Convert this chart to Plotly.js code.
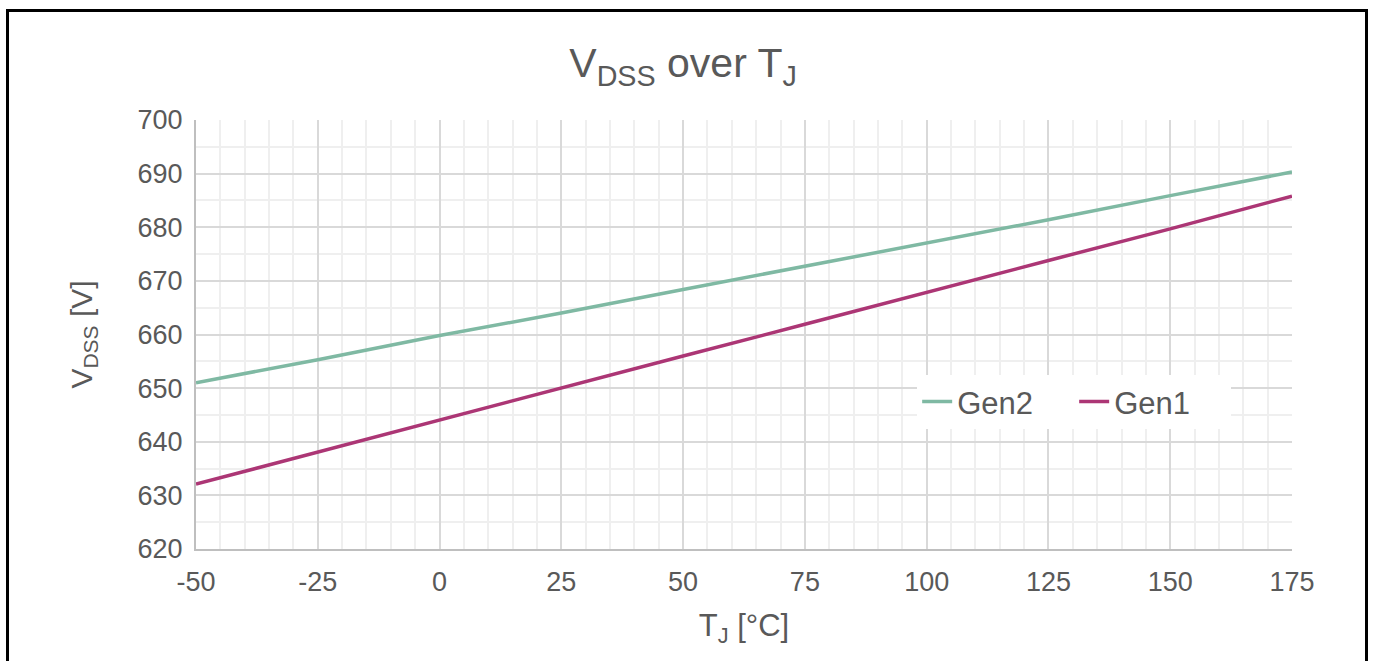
<!DOCTYPE html>
<html>
<head>
<meta charset="utf-8">
<script src="https://cdn.plot.ly/plotly-3.0.1.min.js"></script>
<style>
  html, body { margin: 0; padding: 0; background: #fff; overflow: hidden; }
  #chart { width: 1373px; height: 661px; }
  #frame { position: absolute; left: 6px; top: 9px; width: 1362px; height: 700px;
           box-sizing: border-box; border: 3px solid #000; pointer-events: none; }
</style>
</head>
<body>
<div id="chart"></div>
<div id="frame"></div>
<script>
// Junction temperature [°C]
const tj = [-50, -25, 0, 25, 50, 75, 100, 125, 150, 175];
// VDSS [V]
const gen2 = [651.0, 655.3, 659.8, 664.0, 668.4, 672.7, 677.1, 681.4, 685.9, 690.3];
const gen1 = [632.1, 638.1, 644.1, 650.0, 656.0, 661.9, 667.9, 673.8, 679.7, 685.8];
const seriesNames = ['Gen2', 'Gen1'];
const xTicks = [-50, -25, 0, 25, 50, 75, 100, 125, 150, 175];
const yTicks = [620, 630, 640, 650, 660, 670, 680, 690, 700];

const FONT = '"Liberation Sans", Arial, sans-serif';
const GREY = '#595959';

const traces = [
  { x: tj, y: gen2, name: seriesNames[0], type: 'scatter', mode: 'lines',
    line: { color: '#7fb9a3', width: 3.5 } },
  { x: tj, y: gen1, name: seriesNames[1], type: 'scatter', mode: 'lines',
    line: { color: '#ac3675', width: 3.5 } }
];

const layout = {
  width: 1373, height: 661,
  paper_bgcolor: '#ffffff', plot_bgcolor: '#ffffff',
  margin: { l: 196, r: 81, t: 120, b: 112 },
  font: { family: FONT, color: GREY, size: 27 },
  title: { text: 'V<sub>DSS</sub> over T<sub>J</sub>', font: { family: FONT, size: 41, color: GREY },
           xref: 'container', x: 0.4975, xanchor: 'center', yref: 'container', y: 0.905, yanchor: 'middle' },
  showlegend: true,
  legend: { orientation: 'h', x: 0.658, xanchor: 'left', y: 0.343, yanchor: 'middle',
            bgcolor: '#ffffff', font: { family: FONT, size: 31, color: GREY },
            itemwidth: 30, entrywidth: 112, entrywidthmode: 'pixels', traceorder: 'normal' },
  xaxis: {
    range: [-50, 175], tickvals: xTicks, ticktext: xTicks.map(String),
    showgrid: true, gridcolor: '#d9d9d9', gridwidth: 2,
    minor: { dtick: 5, tick0: 0, showgrid: true, gridcolor: '#efefef', gridwidth: 2 },
    zeroline: false, showline: true, linecolor: '#bfbfbf', linewidth: 2,
    ticks: '', ticklabelstandoff: 8, tickfont: { family: FONT, size: 27, color: GREY },
    title: { text: 'T<sub>J</sub> [°C]', font: { family: FONT, size: 31, color: GREY }, standoff: 18 },
    fixedrange: true
  },
  yaxis: {
    range: [620, 700], tickvals: yTicks, ticktext: yTicks.map(String),
    showgrid: true, gridcolor: '#d9d9d9', gridwidth: 2,
    minor: { dtick: 5, showgrid: true, gridcolor: '#efefef', gridwidth: 2 },
    zeroline: false, showline: true, linecolor: '#bfbfbf', linewidth: 2,
    ticks: '', ticklabelstandoff: 6, tickfont: { family: FONT, size: 27, color: GREY },
    title: { text: 'V<sub>DSS</sub> [V]', font: { family: FONT, size: 30, color: GREY }, standoff: 36 },
    fixedrange: true
  }
};

Plotly.newPlot('chart', traces, layout, { displayModeBar: false, staticPlot: true });
</script>
</body>
</html>
